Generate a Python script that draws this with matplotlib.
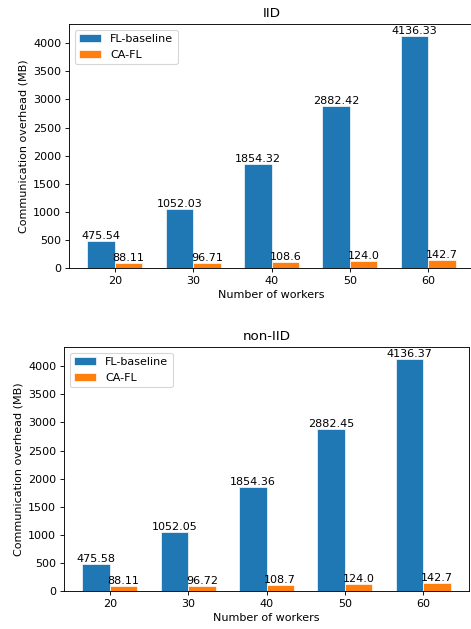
import numpy as np
import matplotlib.pyplot as plt

workers = [20, 30, 40, 50, 60]
iid_baseline = [475.54, 1052.03, 1854.32, 2882.42, 4136.33]
iid_cafl = [88.11, 96.71, 108.6, 124.0, 142.7]
noniid_baseline = [475.58, 1052.05, 1854.36, 2882.45, 4136.37]
noniid_cafl = [88.11, 96.72, 108.7, 124.0, 142.7]

W, H, DPI = 471, 629, 80
fig = plt.figure(figsize=(W / DPI, H / DPI), dpi=DPI)

width = 0.35
x = np.arange(len(workers))


def draw(ax, base, ca, title):
    b1 = ax.bar(x - width / 2, base, width, label='FL-baseline',
                color='#1f77b4', edgecolor='white', linewidth=0.6)
    b2 = ax.bar(x + width / 2, ca, width, label='CA-FL',
                color='#ff7f0e', edgecolor='white', linewidth=0.6)
    for bars in (b1, b2):
        for rect in bars:
            h = rect.get_height()
            ax.text(rect.get_x() + rect.get_width() / 2, h, str(h),
                    ha='center', va='bottom')
    ax.set_xticks(x)
    ax.set_xticklabels(workers)
    ax.set_xlabel('Number of workers')
    ax.set_ylabel('Communication overhead (MB)')
    ax.set_title(title)
    ax.legend(loc='upper left')


ax1 = fig.add_axes([69 / W, (H - 268) / H, 405 / W, 244 / H])
draw(ax1, iid_baseline, iid_cafl, 'IID')

ax2 = fig.add_axes([64 / W, (H - 591) / H, 405 / W, 244 / H])
draw(ax2, noniid_baseline, noniid_cafl, 'non-IID')

fig.savefig('out.png', dpi=DPI)
